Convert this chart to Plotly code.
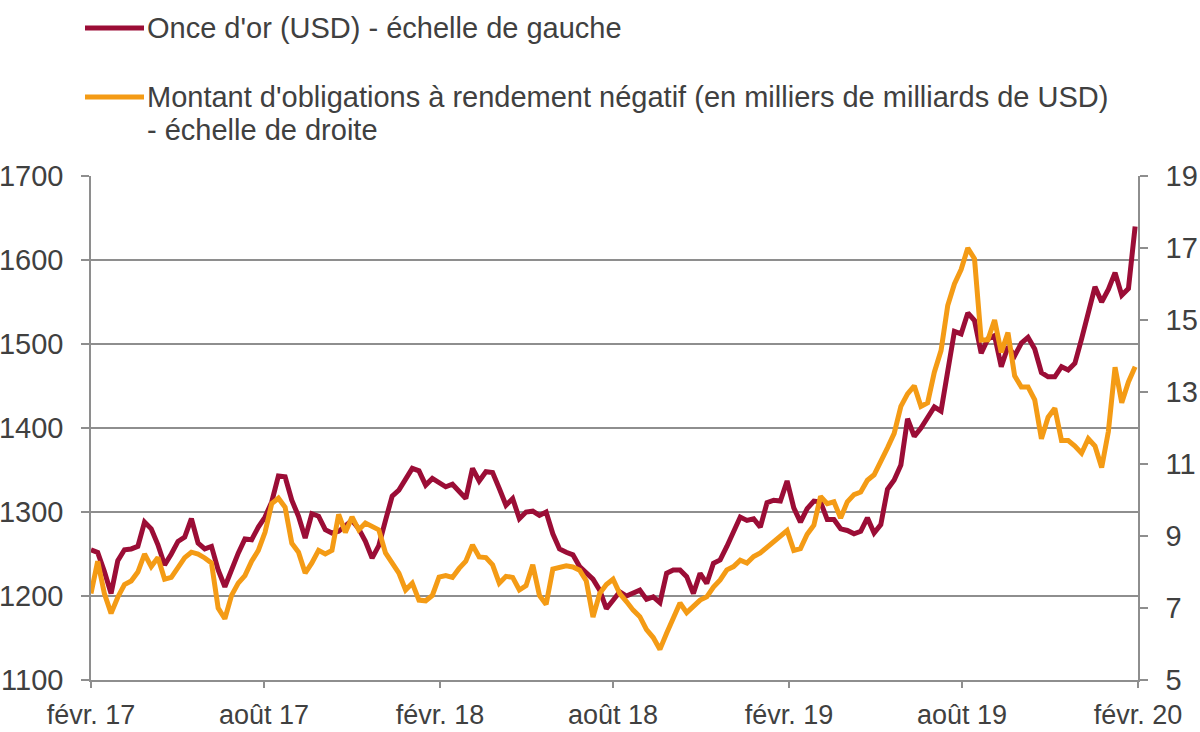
import pandas as pd
import plotly.graph_objects as go

# ---- data (weekly readings) ----
start_date = "2017-02-01"
n_weeks = 157
dates = pd.date_range(start_date, periods=n_weeks, freq="7D")

gold_usd = [
    1255, 1252, 1229, 1203, 1242, 1255, 1256, 1259, 1288, 1280,
    1261, 1237, 1250, 1265, 1270, 1292, 1263, 1256, 1259, 1231,
    1211, 1233, 1251, 1268, 1267, 1282, 1294, 1312, 1343, 1342,
    1314, 1295, 1269, 1298, 1295, 1279, 1275, 1277, 1284, 1290,
    1280, 1265, 1245, 1260, 1290, 1319, 1326, 1338, 1352, 1349,
    1332, 1340, 1335, 1330, 1333, 1325, 1316, 1352, 1337, 1348,
    1347, 1328, 1308, 1316, 1292, 1300, 1301, 1296, 1300, 1274,
    1256, 1252, 1249, 1235, 1228, 1220, 1207, 1185, 1195, 1205,
    1200, 1203, 1207, 1196, 1199, 1192, 1227, 1231, 1231, 1223,
    1203, 1227, 1215, 1239, 1243, 1259, 1275, 1294, 1290, 1292,
    1282, 1311, 1314, 1313, 1337, 1305, 1288, 1304, 1313, 1312,
    1291, 1291, 1280, 1278, 1274, 1277, 1293, 1275, 1285, 1327,
    1338, 1356, 1411, 1390, 1400, 1412, 1425, 1420, 1464, 1515,
    1512, 1537, 1528, 1489, 1506, 1510, 1473, 1497, 1486, 1501,
    1508, 1494, 1466, 1461, 1461, 1473, 1469, 1477, 1506, 1537,
    1568, 1550, 1565, 1585, 1558, 1566, 1640,
]

neg_yield_bonds = [
    7.4, 8.3, 7.4, 6.85, 7.3, 7.65, 7.75, 8.0, 8.5, 8.15,
    8.4, 7.8, 7.85, 8.1, 8.4, 8.55, 8.5, 8.39, 8.25, 7.0,
    6.7, 7.35, 7.69, 7.9, 8.3, 8.6, 9.1, 9.9, 10.05, 9.8,
    8.8, 8.55, 7.97, 8.25, 8.6, 8.5, 8.6, 9.6, 9.1, 9.53,
    9.17, 9.36, 9.25, 9.17, 8.53, 8.25, 7.97, 7.5, 7.69, 7.22,
    7.2, 7.35, 7.86, 7.9, 7.85, 8.1, 8.3, 8.75, 8.42, 8.4,
    8.2, 7.69, 7.88, 7.85, 7.5, 7.62, 8.2, 7.35, 7.1, 8.08,
    8.14, 8.17, 8.14, 8.05, 7.75, 6.75, 7.4, 7.65, 7.8, 7.4,
    7.18, 6.94, 6.76, 6.4, 6.18, 5.85, 6.3, 6.7, 7.14, 6.87,
    7.03, 7.22, 7.31, 7.58, 7.78, 8.06, 8.15, 8.33, 8.25, 8.43,
    8.53, 8.69, 8.82, 8.97, 9.15, 8.6, 8.65, 9.05, 9.3, 10.1,
    9.9, 9.95, 9.5, 9.95, 10.15, 10.22, 10.55, 10.7, 11.05, 11.45,
    11.85, 12.6, 12.95, 13.17, 12.6, 12.7, 13.55, 14.15, 15.4, 16.0,
    16.4, 17.0, 16.7, 14.44, 14.45, 15.0, 14.1, 14.65, 13.45, 13.14,
    13.14, 12.78, 11.7, 12.3, 12.55, 11.65, 11.65, 11.5, 11.3, 11.7,
    11.5, 10.9, 11.9, 13.69, 12.7, 13.28, 13.7,
]

x_tick_dates = ["2017-02-01", "2017-08-01", "2018-02-01", "2018-08-01",
                "2019-02-01", "2019-08-01", "2020-02-01"]
x_tick_labels = ["févr. 17", "août 17", "févr. 18", "août 18",
                 "févr. 19", "août 19", "févr. 20"]
left_ticks = [1100, 1200, 1300, 1400, 1500, 1600, 1700]
right_ticks = [5, 7, 9, 11, 13, 15, 17, 19]

name_gold = "Once d'or (USD) - échelle de gauche"
name_bonds_1 = "Montant d'obligations à rendement négatif (en milliers de milliards de USD)"
name_bonds_2 = "- échelle de droite"

# ---- styles ----
GOLD = "#9B0D36"
ORANGE = "#F49B15"
GRID = "#8E8E8E"
TEXT = "#404040"
FONT = "Liberation Sans, Arial, sans-serif"
TICK_SIZE = 29
XTICK_SIZE = 27
LEG_SIZE = 29

fig = go.Figure()
fig.add_trace(go.Scatter(x=dates, y=gold_usd, mode="lines", name=name_gold,
                         line=dict(color=GOLD, width=5), yaxis="y"))
fig.add_trace(go.Scatter(x=dates, y=neg_yield_bonds, mode="lines", name=name_bonds_1,
                         line=dict(color=ORANGE, width=5), yaxis="y2"))

W, H = 1200, 732
ml, mr, mt, mb = 91, 62, 176, 52
pw, ph = W - ml - mr, H - mt - mb


def px_x(px):
    return (px - ml) / pw


def px_y(py):
    return (H - mb - py) / ph


# manual legend
for py, col in [(28, GOLD), (97, ORANGE)]:
    fig.add_shape(type="line", xref="paper", yref="paper",
                  x0=px_x(85), x1=px_x(144), y0=px_y(py), y1=px_y(py),
                  line=dict(color=col, width=5))
for py, txt in [(28, name_gold), (97, name_bonds_1), (130, name_bonds_2)]:
    fig.add_annotation(xref="paper", yref="paper", x=px_x(145), y=px_y(py),
                       xanchor="left", yanchor="middle", text=txt, showarrow=False,
                       font=dict(family=FONT, size=LEG_SIZE, color=TEXT))

fig.update_layout(
    width=W, height=H,
    margin=dict(l=ml, r=mr, t=mt, b=mb, autoexpand=False),
    plot_bgcolor="white", paper_bgcolor="white",
    showlegend=False,
    font=dict(family=FONT, size=TICK_SIZE, color=TEXT),
    xaxis=dict(type="date", range=[x_tick_dates[0], x_tick_dates[-1]],
               tickvals=x_tick_dates, ticktext=x_tick_labels, automargin=False,
               showgrid=False, showline=True, linecolor=GRID, linewidth=1.5,
               ticks="outside", ticklen=6, tickcolor=GRID, tickwidth=1.5,
               ticklabelstandoff=4,
               tickfont=dict(family=FONT, size=XTICK_SIZE, color=TEXT)),
    yaxis=dict(range=[1100, 1700], tickvals=left_ticks, automargin=False,
               showgrid=True, gridcolor=GRID, gridwidth=1.5,
               showline=True, linecolor=GRID, linewidth=1.5,
               ticks="outside", ticklen=8, tickcolor=GRID, tickwidth=1.5,
               ticklabelstandoff=12, zeroline=False,
               tickfont=dict(family=FONT, size=TICK_SIZE, color=TEXT)),
    yaxis2=dict(range=[5, 19], tickvals=right_ticks, overlaying="y", side="right",
                automargin=False,
                showgrid=False, showline=True, linecolor=GRID, linewidth=1.5,
                ticks="outside", ticklen=8, tickcolor=GRID, tickwidth=1.5,
                ticklabelstandoff=12, zeroline=False,
                tickfont=dict(family=FONT, size=TICK_SIZE, color=TEXT)),
)

fig.write_html("out.html",
               config={"displayModeBar": False},
               post_script="document.body.style.margin='0px';"
                           "document.body.style.overflow='hidden';")
